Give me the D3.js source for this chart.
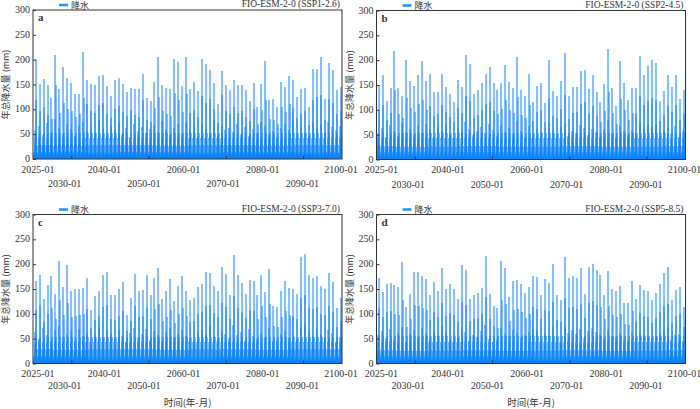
<!DOCTYPE html>
<html lang="zh">
<head>
<meta charset="UTF-8">
<title>FIO-ESM-2-0 降水</title>
<style>
  html, body { margin: 0; padding: 0; background: #fff; }
  svg text { font-family: "Liberation Serif", "DejaVu Serif", serif; fill: #333; }
  svg .cjk { font-family: "Noto Sans CJK SC", sans-serif; }
</style>
</head>
<body>
<svg id="chart" width="700" height="409"></svg>
<script src="https://cdn.jsdelivr.net/npm/d3@7/dist/d3.min.js"></script>
<script>
// monthly series start at 2022-01, one row of 12 months per year (2022..2099)
const startYear = 2022;
const yTicks = [0, 50, 100, 150, 200, 250, 300];
const xTickMonths = [116, 350, 584, 818];
const xLabels = [
  { text: '2025-01', month: 36, row: 0, dx: -7 },
  { text: '2030-01', month: 96, row: 1, dx: 0 },
  { text: '2040-01', month: 216, row: 0, dx: 0 },
  { text: '2050-01', month: 336, row: 1, dx: 0 },
  { text: '2060-01', month: 456, row: 0, dx: 0 },
  { text: '2070-01', month: 576, row: 1, dx: 0 },
  { text: '2080-01', month: 696, row: 0, dx: 0 },
  { text: '2090-01', month: 816, row: 1, dx: 0 },
  { text: '2100-01', month: 936, row: 0, dx: -1 }
];

// July (peak month) per year
const julA = [202,152,162,148,122,209,140,185,163,153, 130,130,215,159,151,149,168,169,146,126,
  159,163,151,135,143,140,140,171,123,117, 155,205,149,143,140,202,196,147,206,140,
  155,136,202,192,179,153,110,177,149,139, 159,148,148,139,117,153,104,151,197,119,
  120,105,156,145,168,160,125,141,143,105, 181,181,205,120,193,180,138,145];
// August
const augA = [118,96,105,88,80,150,92,112,100,96, 84,90,122,110,96,92,108,112,90,82,
  100,106,94,86,98,88,84,118,78,74, 102,124,96,90,86,132,118,94,130,92,
  98,84,126,112,120,100,72,128,96,90, 104,92,96,84,76,100,70,98,118,80,
  78,70,104,94,110,102,82,90,96,68, 118,124,128,78,120,112,90,96];
// June
const junA = [58,66,48,72,54,80,62,50,70,60, 46,68,74,56,64,52,78,60,48,66,
  58,72,50,62,44,70,56,64,52,60, 68,54,76,58,48,62,70,50,74,56,
  64,46,72,60,52,78,48,66,58,62, 54,70,50,64,46,60,52,74,66,48,
  56,44,62,70,58,76,50,64,54,46, 72,60,68,52,74,64,58,66];
// Jan, Feb, Mar, Apr, May, Sep, Oct, Nov, Dec
const restA = [6, 8, 15, 26, 42, 52, 28, 12, 7];

const julB = [149,170,118,143,219,144,128,200,159,148, 170,199,159,173,136,136,172,146,131,116,
  161,145,210,192,131,139,155,172,187,154, 140,155,191,156,143,206,139,128,173,115,
  148,155,114,200,137,128,159,215,128,146, 146,178,181,141,170,135,116,153,222,144,
  108,199,154,120,143,143,208,170,188,201, 195,118,138,171,146,170,122,140];
const augB = [98,110,80,94,140,92,84,124,104,96, 112,120,100,108,88,92,110,96,86,76,
  104,94,128,118,84,90,100,112,116,98, 92,102,120,100,94,126,90,84,110,78,
  96,100,76,124,88,84,102,130,82,94, 96,112,116,92,108,88,76,98,136,94,
  72,122,100,80,94,92,128,110,118,124, 120,78,90,108,96,110,80,92];
const junB = [52,64,46,70,58,48,74,56,62,50, 68,54,72,60,46,66,58,70,52,44,
  64,56,76,62,50,58,66,54,72,60, 48,70,56,64,52,78,58,46,68,50,
  62,56,44,74,60,52,66,72,48,58, 54,70,64,50,62,56,46,60,80,52,
  44,68,58,50,60,54,76,62,70,66, 72,48,56,64,52,68,46,58];
const restB = [6, 8, 15, 25, 43, 54, 28, 11, 7];

const julC = [167,179,129,158,177,139,206,154,199,145, 149,150,153,172,108,135,145,179,185,138,
  137,149,164,97,131,181,146,147,179,138, 173,193,130,146,171,126,156,177,145,127,
  131,155,160,184,183,157,145,195,181,138, 219,179,162,140,168,167,137,179,143,191,
  115,113,145,166,153,149,139,214,221,179, 173,177,157,150,183,165,112,131];
const augC = [108,118,84,100,112,90,128,98,122,94, 96,98,100,110,72,88,96,114,118,90,
  88,96,106,66,86,116,94,96,112,90, 110,120,86,94,108,82,100,112,96,84,
  86,100,104,116,118,102,94,122,114,90, 136,112,104,92,108,106,90,116,94,120,
  76,74,94,106,98,96,90,132,138,112, 110,114,100,98,116,104,74,86];
const junC = [64,50,72,58,46,68,76,54,60,66, 48,70,56,62,44,58,74,52,66,60,
  50,68,56,42,62,72,54,60,70,48, 66,58,46,64,72,52,60,68,56,50,
  44,62,70,58,76,54,48,66,60,52, 78,58,64,46,70,56,50,62,54,72,
  46,48,60,66,52,58,50,74,80,64, 56,70,60,52,68,62,44,54];
const restC = [7, 9, 16, 27, 44, 53, 29, 12, 8];

const julD = [173,143,161,163,158,155,205,113,139,185, 185,177,170,137,165,145,193,149,160,151,
  129,199,188,130,138,142,153,217,139,115, 111,206,192,133,167,169,161,141,154,177,
  174,137,171,163,201,137,127,215,173,177, 173,193,140,194,201,188,179,138,187,151,
  145,157,122,121,167,129,159,148,146,127, 142,161,182,194,127,147,155,113];
const augD = [112,94,104,106,100,98,128,74,90,118, 116,112,108,88,104,94,122,96,102,98,
  84,124,118,86,90,92,100,134,90,76, 72,128,120,86,108,110,104,92,100,114,
  110,90,108,106,124,88,84,132,112,114, 110,120,92,122,126,118,114,90,116,98,
  94,100,80,78,106,84,102,96,94,82, 92,104,116,120,82,96,100,74];
const junD = [58,66,52,70,48,62,74,44,60,68, 54,72,60,50,66,56,76,62,48,58,
  52,70,64,46,58,54,66,78,50,44, 48,72,60,56,68,62,52,58,64,70,
  66,50,60,56,74,54,46,76,62,68, 60,70,52,66,72,64,58,50,68,56,
  54,62,48,46,64,52,60,58,56,50, 56,62,68,72,48,58,60,46];
const restD = [7, 8, 15, 26, 44, 55, 28, 12, 7];

function toMonthly(jul, aug, jun, rest) {
  const out = [];
  jul.forEach((v, k) => {
    [rest[0], rest[1], rest[2], rest[3], rest[4], jun[k], v, aug[k], rest[5], rest[6], rest[7], rest[8]]
      .forEach(d => out.push(d));
  });
  return out;
}

const panels = [
  { tag: 'a', title: 'FIO-ESM-2-0 (SSP1-2.6)', values: toMonthly(julA, augA, junA, restA), left: 33, top: 10, labelRows: [13.5, 28] },
  { tag: 'b', title: 'FIO-ESM-2-0 (SSP2-4.5)', values: toMonthly(julB, augB, junB, restB), left: 376.5, top: 10.5, labelRows: [13.5, 28] },
  { tag: 'c', title: 'FIO-ESM-2-0 (SSP3-7.0)', values: toMonthly(julC, augC, junC, restC), left: 33, top: 214.5, labelRows: [13.5, 25.5], xTitle: true },
  { tag: 'd', title: 'FIO-ESM-2-0 (SSP5-8.5)', values: toMonthly(julD, augD, junD, restD), left: 376.5, top: 214.5, labelRows: [13.5, 25.5], xTitle: true }
];

const W = 309, H = 149;
const barColor = '#0a82fa';
const svg = d3.select('#chart');

panels.forEach((p, pi) => {
  const g = svg.append('g').attr('transform', `translate(${p.left},${p.top})`);
  const n = p.values.length;
  const x = d3.scaleLinear().domain([0, n]).range([0, W]);
  const y = d3.scaleLinear().domain([0, 300]).range([H, 0]);

  svg.append('clipPath').attr('id', 'clip' + pi)
    .append('rect').attr('width', W).attr('height', H);

  // a month is only a third of a pixel wide: each bar is snapped to whole
  // pixels and drawn translucent, so neighbouring months stack up darker
  g.append('g').attr('clip-path', `url(#clip${pi})`)
    .attr('shape-rendering', 'crispEdges')
    .selectAll('rect')
    .data(p.values)
    .join('rect')
    .attr('x', (d, i) => Math.floor(x(i + 0.5)) - 0.5)
    .attr('y', d => y(d))
    .attr('width', 2)
    .attr('height', d => H - y(d))
    .attr('fill', barColor)
    .attr('fill-opacity', 0.5);

  // y axis, ticks pointing inward
  const ya = g.append('g').call(d3.axisLeft(y).tickValues(yTicks).tickSizeInner(-3).tickSizeOuter(0).tickPadding(3));
  ya.select('.domain').remove();
  ya.selectAll('line').attr('stroke', '#333');
  ya.selectAll('text').attr('font-size', 10).attr('fill', '#333').attr('dy', '0.25em')
    .style('font-family', '"Liberation Serif", serif');

  // x axis ticks, inward
  const xa = g.append('g').attr('transform', `translate(0,${H})`)
    .call(d3.axisBottom(x).tickValues(xTickMonths).tickSizeInner(-3).tickSizeOuter(0).tickFormat(''));
  xa.select('.domain').remove();
  xa.selectAll('line').attr('stroke', '#333');

  g.selectAll('text.xl')
    .data(xLabels)
    .join('text')
    .attr('class', 'xl')
    .attr('x', d => x(d.month) + d.dx)
    .attr('y', d => H + p.labelRows[d.row])
    .attr('text-anchor', 'middle')
    .attr('font-size', 10)
    .text(d => d.text);

  // frame
  g.append('rect').attr('width', W).attr('height', H)
    .attr('fill', 'none').attr('stroke', '#333').attr('stroke-width', 1);

  // panel tag
  g.append('text').attr('x', 5).attr('y', 11)
    .attr('font-size', 11).attr('font-weight', 'bold').attr('fill', '#111')
    .text(p.tag);

  // title
  g.append('text').attr('x', W - 2).attr('y', -3)
    .attr('text-anchor', 'end').attr('font-size', 9.5).attr('fill', '#444')
    .text(p.title);

  // legend
  g.append('line').attr('x1', 26).attr('x2', 35).attr('y1', -5).attr('y2', -5)
    .attr('stroke', '#1e90ff').attr('stroke-width', 2.5);
  g.append('text').attr('class', 'cjk').attr('x', 38).attr('y', -1.5)
    .attr('font-size', 9).attr('fill', '#555')
    .text('降水');

  // y title
  g.append('text').attr('class', 'cjk')
    .attr('transform', `translate(-24,${H / 2}) rotate(-90)`)
    .attr('text-anchor', 'middle').attr('font-size', 9).attr('fill', '#888')
    .text('年总降水量 (mm)');

  if (p.xTitle) {
    g.append('text').attr('class', 'cjk')
      .attr('x', W / 2).attr('y', H + 42)
      .attr('text-anchor', 'middle').attr('font-size', 9.5).attr('fill', '#555')
      .text('时间(年-月)');
  }
});
</script>
</body>
</html>
